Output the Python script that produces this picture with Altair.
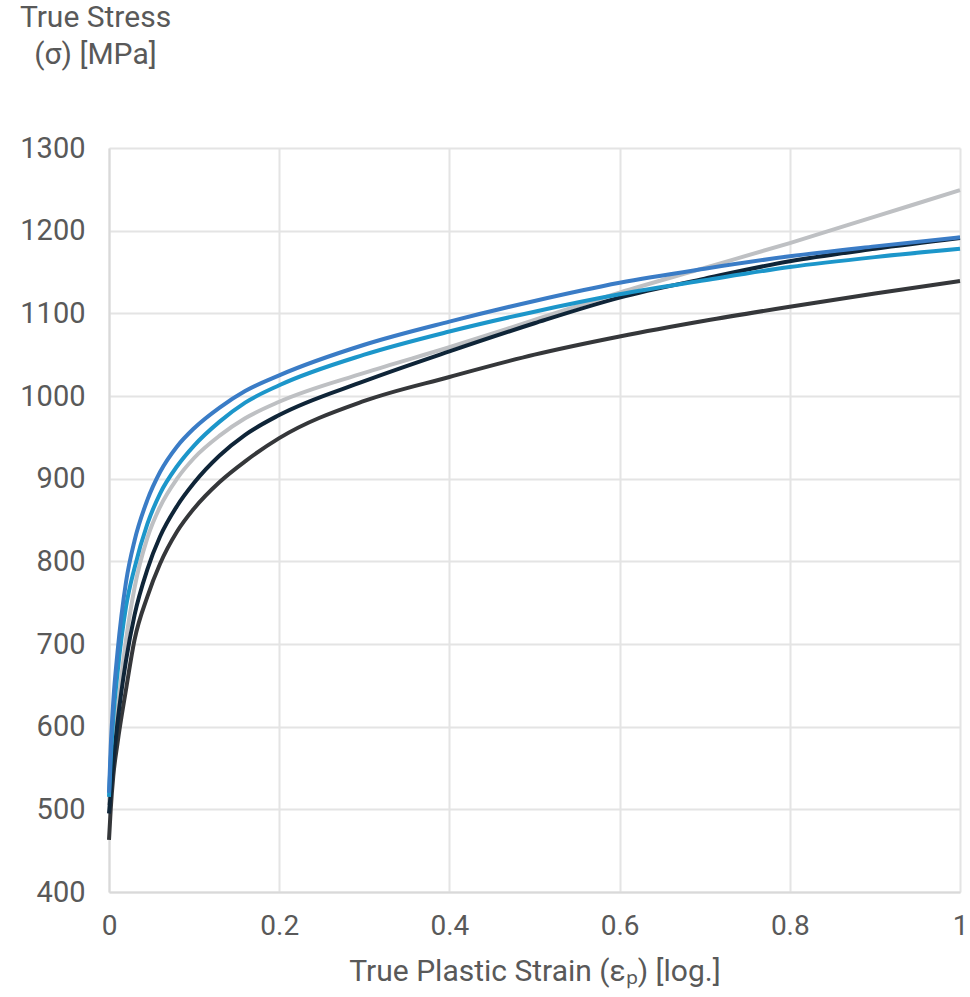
import altair as alt
import pandas as pd

strain = [0, 0.002, 0.005, 0.01, 0.02, 0.03, 0.045, 0.06, 0.08, 0.1, 0.13, 0.16, 0.2,
          0.3, 0.4, 0.5, 0.6, 0.7, 0.8, 0.9, 1.0]

stress_gray = [505, 540, 575, 620, 705, 768, 828, 866, 900, 925, 952, 973, 993,
               1028, 1059, 1092, 1125, 1155, 1185, 1217, 1249]
stress_dark = [463, 500, 540, 580, 645, 705, 757, 797, 836, 864, 896, 921, 949,
               994, 1023, 1050, 1072, 1091, 1108, 1124, 1139]
stress_navy = [495, 520, 555, 605, 680, 735, 790, 830, 867, 895, 928, 953, 977,
               1018, 1054, 1088, 1119, 1142, 1163, 1178, 1191]
stress_lightblue = [515, 560, 610, 665, 745, 792, 845, 882, 915, 940, 969, 992, 1013,
                    1050, 1078, 1102, 1123, 1140, 1156, 1168, 1178]
stress_blue = [520, 575, 630, 690, 775, 825, 874, 908, 939, 961, 986, 1006, 1025,
               1062, 1090, 1115, 1137, 1154, 1169, 1181, 1192]

series = [
    ("gray", stress_gray, "#BEC0C3"),
    ("dark", stress_dark, "#35373A"),
    ("navy", stress_navy, "#0F2538"),
    ("lightblue", stress_lightblue, "#1C96CA"),
    ("blue", stress_blue, "#3A7CC6"),
]

y_ticks = [400, 500, 600, 700, 800, 900, 1000, 1100, 1200, 1300]
x_ticks = [0, 0.2, 0.4, 0.6, 0.8, 1.0]

FONT = "Roboto"
TXT = "#595959"

x_enc = alt.X(
    "strain:Q",
    scale=alt.Scale(domain=[0, 1], nice=False),
    axis=alt.Axis(
        values=x_ticks, format="~g", title="True Plastic Strain (εₚ) [log.]",
        grid=True, gridColor="#E4E4E4", gridWidth=2,
        domainColor="#D9D9D9", domainWidth=2, ticks=False,
        labelFontSize=28, labelColor=TXT, labelFont=FONT, labelPadding=20,
        titleFontSize=30, titleColor=TXT, titleFont=FONT, titleFontWeight="normal",
        titlePadding=16, labelFlush=False,
    ),
)
y_enc = alt.Y(
    "stress:Q",
    scale=alt.Scale(domain=[400, 1300], nice=False),
    axis=alt.Axis(
        values=y_ticks, format="d", title=["True Stress", "(σ) [MPa]"],
        grid=True, gridColor="#E4E4E4", gridWidth=2,
        domainColor="#D9D9D9", domainWidth=2, ticks=False,
        labelFontSize=29, labelColor=TXT, labelFont=FONT, labelPadding=24,
        titleFontSize=30, titleColor=TXT, titleFont=FONT, titleFontWeight="normal",
        titleAngle=0, titleAlign="center", titleBaseline="top",
        titleX=-14, titleY=-146, titleLineHeight=37,
    ),
)

layers = []
for name, vals, col in series:
    df = pd.DataFrame({"strain": strain, "stress": vals})
    layers.append(
        alt.Chart(df).mark_line(color=col, strokeWidth=4, interpolate="monotone").encode(x=x_enc, y=y_enc)
    )

chart = alt.layer(*layers).properties(
    width=851, height=744,
    autosize=alt.AutoSizeParams(type="none"),
    padding={"left": 109, "top": 148, "right": 10, "bottom": 105},
    background="white",
).configure_view(strokeWidth=0)

chart.save("out.html", embed_options={"renderer": "svg", "actions": False})
